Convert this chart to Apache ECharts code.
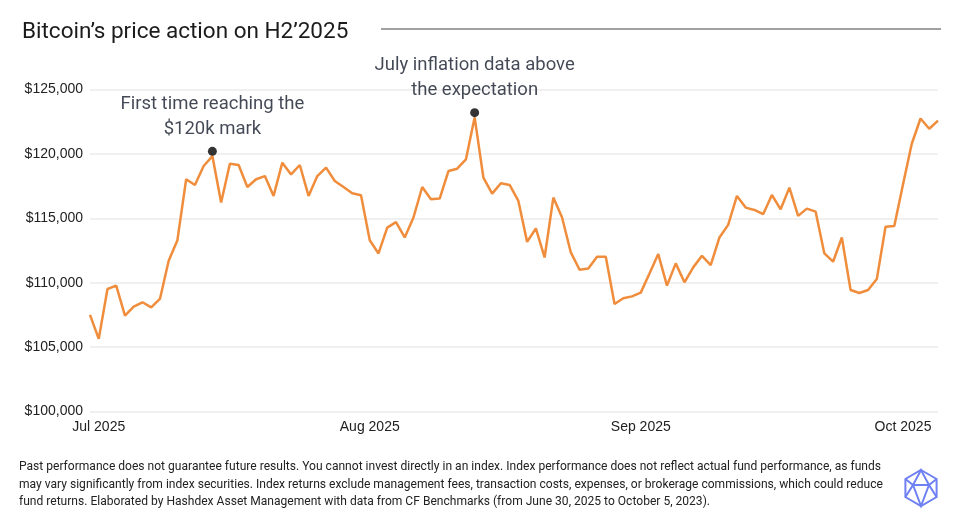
<!DOCTYPE html>
<html>
<head>
<meta charset="utf-8">
<script src="https://cdn.jsdelivr.net/npm/echarts@6/dist/echarts.min.js"></script>
<style>
html,body{margin:0;padding:0;background:#fff;}
#chart{width:959px;height:527px;}
</style>
</head>
<body>
<div id="chart"></div>
<script>
// ---- data ----
var startDate = '2025-06-30';
var dayCount = 98;
var prices = [107500,105640,109510,109770,107450,108140,108480,108090,108740,111700,
113300,118030,117590,119060,119830,116220,119240,119140,117430,118030,
118280,116740,119320,118410,119140,116740,118280,118930,117900,117430,
116940,116790,113300,112270,114280,114700,113510,115060,117430,116480,
116530,118670,118850,119570,122840,118150,116920,117720,117590,116350,
113170,114210,111960,116610,115060,112350,111010,111110,112010,112010,
108350,108790,108940,109230,110720,112220,109770,111500,110030,111190,
112090,111370,113510,114490,116740,115830,115650,115320,116810,115700,
117380,115190,115750,115520,112270,111630,113510,109430,109200,109430,
110280,114340,114410,117640,120790,122750,121950,122590];
var annotDates = ['2025-07-14', '2025-08-13'];
var annotValues = [120200, 123200];
var annotLabels = ['First time reaching the\n$120k mark', 'July inflation data above\nthe expectation'];
var yTicks = [100000, 105000, 110000, 115000, 120000, 125000];
var monthNames = ['Jan','Feb','Mar','Apr','May','Jun','Jul','Aug','Sep','Oct','Nov','Dec'];
var titleText = 'Bitcoin\u2019s price action on H2\u20192025';
var footerLines = [
 'Past performance does not guarantee future results. You cannot invest directly in an index. Index performance does not reflect actual fund performance, as funds',
 'may vary significantly from index securities. Index returns exclude management fees, transaction costs, expenses, or brokerage commissions, which could reduce',
 'fund returns. Elaborated by Hashdex Asset Management with data from CF Benchmarks (from June 30, 2025 to October 5, 2023).'
];

// build date categories
var dates = [];
(function(){
  var p = startDate.split('-');
  var t = Date.UTC(+p[0], +p[1]-1, +p[2]);
  for (var i = 0; i < dayCount; i++) {
    var d = new Date(t + i*86400000);
    var m = d.getUTCMonth()+1, dd = d.getUTCDate();
    dates.push(d.getUTCFullYear()+'-'+(m<10?'0':'')+m+'-'+(dd<10?'0':'')+dd);
  }
})();

var chart = echarts.init(document.getElementById('chart'), null, {renderer:'canvas'});
var labelFont = 'Liberation Sans, Arial, sans-serif';
var textFont = 'Roboto, sans-serif';

// condensed footer: measure and squeeze to the reference width
var footerFont = '13px Roboto, sans-serif';
var mctx = document.createElement('canvas').getContext('2d');
mctx.font = footerFont;
var footerScale = 862 / mctx.measureText(footerLines[0]).width;

var footerGraphics = footerLines.map(function(s, i){
  return {type:'text', x:19, y:460 + i*17.8, scaleX:footerScale, originX:0,
    style:{text:s, fill:'#222', font:footerFont}};
});

var logoColor = '#6f80f2';
var cx = 921, cy = 488, r = 18;
var hex = [];
for (var k = 0; k < 6; k++) {
  var a = Math.PI/180*(-90 + 60*k);
  hex.push([cx + r*Math.cos(a), cy + r*Math.sin(a)]);
}
var inL = [cx-8, cy-3], inR = [cx+8, cy-3];

option = {
  animation:false,
  backgroundColor:'#fff',
  title:{text:titleText, left:17, top:16, textStyle:{fontFamily:textFont, fontSize:22.5, fontWeight:'normal', color:'#1b1b1b'}},
  grid:{left:90, right:21, top:89.5, bottom:115.5},
  xAxis:{
    type:'category', data:dates, boundaryGap:false,
    axisLine:{show:false}, axisTick:{show:false},
    axisLabel:{
      interval:function(i, v){ return v.slice(8) === '01'; },
      formatter:function(v){ return monthNames[+v.slice(5,7)-1] + ' ' + v.slice(0,4); },
      fontFamily:labelFont, fontSize:14, color:'#222', margin:9
    },
    splitLine:{show:false}
  },
  yAxis:{
    type:'value', min:yTicks[0], max:yTicks[yTicks.length-1], interval:5000,
    axisLine:{show:false}, axisTick:{show:false},
    axisLabel:{formatter:function(v){ return '$' + v.toLocaleString('en-US'); }, fontFamily:labelFont, fontSize:14, color:'#222', margin:7},
    splitLine:{lineStyle:{color:'#ebebeb', width:1.5}}
  },
  series:[
    {type:'line', data:prices, symbol:'none', lineStyle:{color:'#f08d3c', width:2.5}, z:2},
    {type:'scatter', data:annotDates.map(function(d,i){ return [d, annotValues[i]]; }),
     symbolSize:9, itemStyle:{color:'#000'}, z:3,
     label:{show:true, position:'top', distance:5, formatter:function(p){ return annotLabels[p.dataIndex]; },
       fontFamily:textFont, fontSize:18.5, lineHeight:25, color:'#141a2b', align:'center'}}
  ],
  graphic:[
    {type:'line', shape:{x1:381, y1:29, x2:941, y2:29}, style:{stroke:'#808080', lineWidth:1.5}},
    {type:'polygon', shape:{points:hex}, style:{fill:'none', stroke:logoColor, lineWidth:2}},
    {type:'polyline', shape:{points:[hex[5], inL, hex[0], inR, hex[1]]}, style:{fill:'none', stroke:logoColor, lineWidth:2}},
    {type:'polyline', shape:{points:[inL, inR]}, style:{fill:'none', stroke:logoColor, lineWidth:2}},
    {type:'polyline', shape:{points:[hex[4], inL, hex[3], inR, hex[2]]}, style:{fill:'none', stroke:logoColor, lineWidth:2}}
  ].concat(footerGraphics)
};
chart.setOption(option);
</script>
</body>
</html>
